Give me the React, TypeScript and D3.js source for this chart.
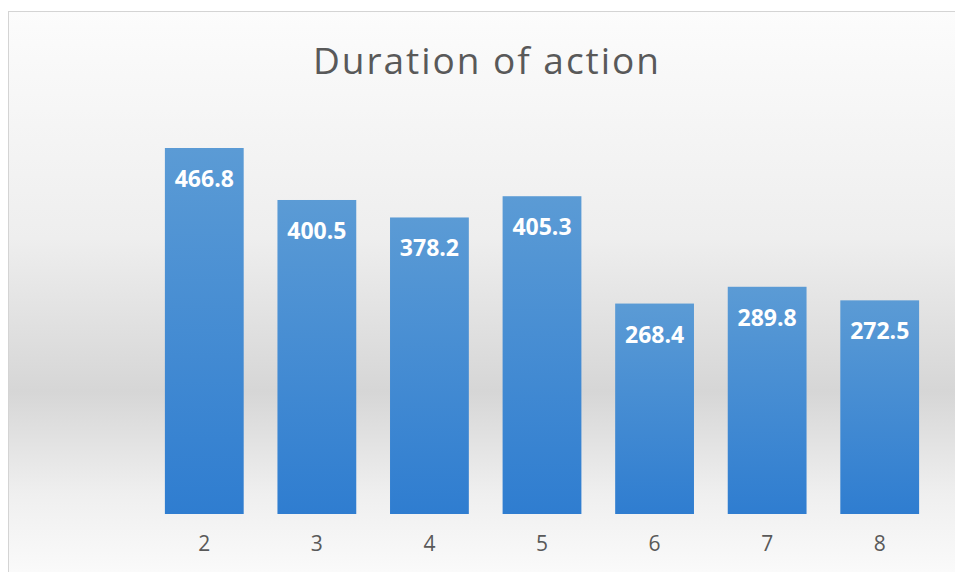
import React, { useEffect, useRef } from 'react';
import * as d3 from 'd3';

const categories = ['2', '3', '4', '5', '6', '7', '8'];
const values = [466.8, 400.5, 378.2, 405.3, 268.4, 289.8, 272.5];
const title = 'Duration of action';

function App() {
  const ref = useRef<SVGSVGElement>(null);
  const width = 955;
  const height = 572;

  useEffect(() => {
    if (!ref.current) return;
    const svg = d3.select(ref.current);
    svg.selectAll('*').remove();

    const defs = svg.append('defs');
    // chart background: white -> grey band -> white
    const bg = defs.append('linearGradient')
      .attr('id', 'bg').attr('x1', 0).attr('y1', 0).attr('x2', 0).attr('y2', 1);
    bg.append('stop').attr('offset', '0%').attr('stop-color', '#fcfcfc');
    bg.append('stop').attr('offset', '40%').attr('stop-color', '#eeeeee');
    bg.append('stop').attr('offset', '67%').attr('stop-color', '#d6d6d6');
    bg.append('stop').attr('offset', '85%').attr('stop-color', '#efefef');
    bg.append('stop').attr('offset', '100%').attr('stop-color', '#fbfbfb');

    const barGrad = defs.append('linearGradient')
      .attr('id', 'barGrad').attr('x1', 0).attr('y1', 0).attr('x2', 0).attr('y2', 1);
    barGrad.append('stop').attr('offset', '0%').attr('stop-color', '#5b9bd5');
    barGrad.append('stop').attr('offset', '100%').attr('stop-color', '#2f7dd0');

    svg.append('rect').attr('width', width).attr('height', height).attr('fill', '#ffffff');
    svg.append('rect')
      .attr('x', 8.5).attr('y', 11.5)
      .attr('width', width + 10).attr('height', height - 5)
      .attr('fill', 'url(#bg)')
      .attr('stroke', '#d4d4d4');

    // title
    svg.append('text')
      .attr('x', 486).attr('y', 74)
      .attr('text-anchor', 'middle')
      .attr('font-family', '"Open Sans", sans-serif')
      .attr('font-size', 37)
      .attr('textLength', 346)
      .attr('lengthAdjust', 'spacing')
      .attr('fill', '#595959')
      .text(title);

    const x = d3.scaleBand()
      .domain(categories)
      .range([148, 936])
      .paddingInner(0.3)
      .paddingOuter(0.15);
    const y = d3.scaleLinear()
      .domain([0, 466.8 * 514 / 366])
      .range([514, 0]);

    const g = svg.append('g');
    g.selectAll('rect.bar')
      .data(values)
      .enter()
      .append('rect')
      .attr('class', 'bar')
      .attr('x', (_, i) => x(categories[i]))
      .attr('y', (d) => y(d))
      .attr('width', x.bandwidth())
      .attr('height', (d) => y(0) - y(d))
      .attr('fill', 'url(#barGrad)');

    g.selectAll('text.val')
      .data(values)
      .enter()
      .append('text')
      .attr('class', 'val')
      .attr('x', (_, i) => x(categories[i]) + x.bandwidth() / 2)
      .attr('y', (d) => y(d) + 39)
      .attr('text-anchor', 'middle')
      .attr('font-family', '"Open Sans", sans-serif')
      .attr('font-weight', 'bold')
      .attr('font-size', 23)
      .attr('fill', '#ffffff')
      .text((d) => d.toFixed(1));

    // x-axis labels
    const axis = svg.append('g')
      .attr('transform', 'translate(0,514)')
      .call(d3.axisBottom(x).tickSize(0).tickPadding(22));
    axis.select('.domain').remove();
    axis.selectAll('text')
      .attr('font-family', '"Open Sans", sans-serif')
      .attr('font-size', 21)
      .attr('fill', '#595959');
  }, []);

  return (
    <svg
      ref={ref}
      width={width}
      height={height}
      style={{ position: 'absolute', left: 0, top: 0 }}
    />
  );
}

export default App;
